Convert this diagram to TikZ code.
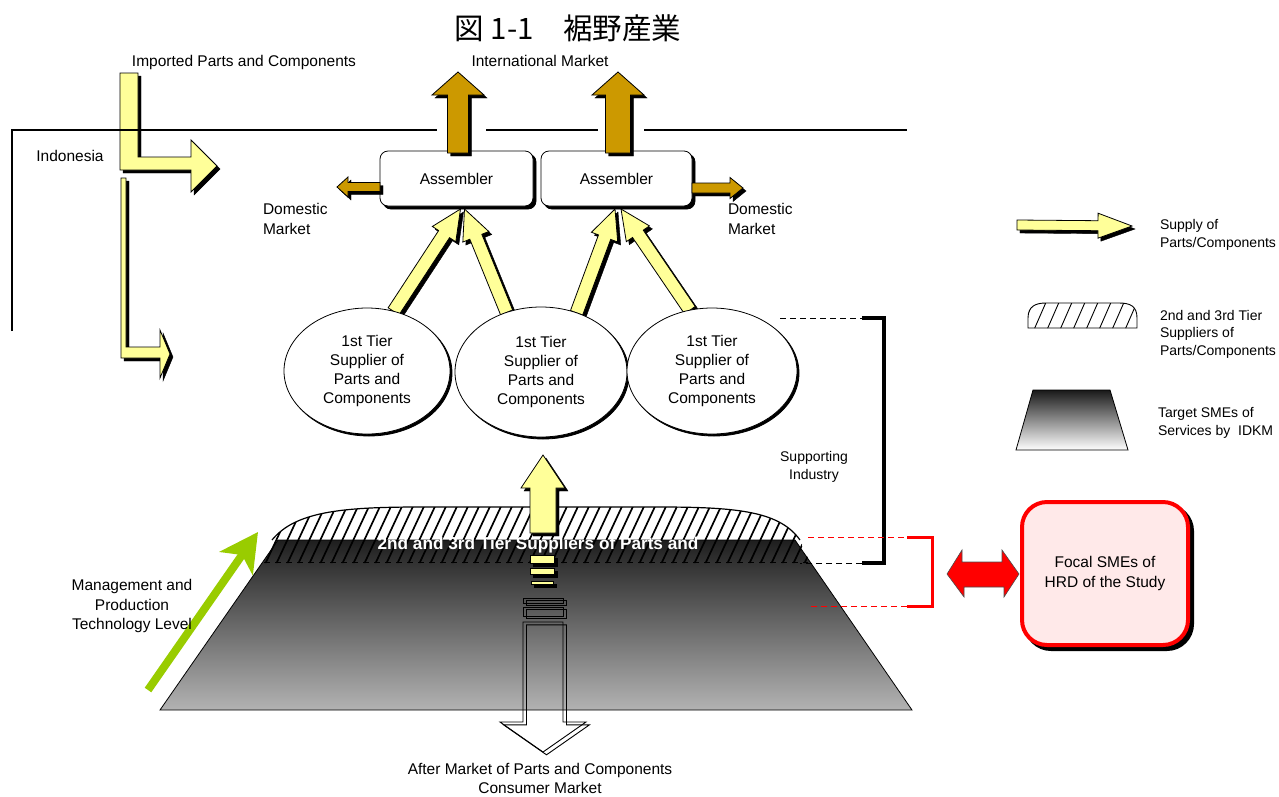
\documentclass[tikz,border=0pt]{standalone}
\usepackage{fontspec}
\setmainfont{Liberation Sans}
\newfontfamily\cjkfont{Noto Sans CJK JP}
\usetikzlibrary{calc,shapes.geometric,arrows.meta}
\definecolor{partyellow}{HTML}{FFFF99}
\definecolor{exportgold}{HTML}{CC9900}
\definecolor{leafgreen}{HTML}{99CC00}
\definecolor{focalpink}{HTML}{FFE9E9}

% block arrow from #2 to #3: half shaft width #4, half head width #5, head length #6
\newcommand\fatarrow[6][]{%
  \coordinate (fa-a) at #2;
  \coordinate (fa-b) at #3;
  \coordinate (fa-h) at ($(fa-b)!#6!(fa-a)$);
  \draw[#1] ($(fa-a)!#4!90:(fa-b)$) -- ($(fa-h)!#4!-90:(fa-a)$)
    -- ($(fa-h)!#5!-90:(fa-a)$) -- (fa-b) -- ($(fa-h)!#5!90:(fa-a)$)
    -- ($(fa-h)!#4!90:(fa-a)$) -- ($(fa-a)!#4!-90:(fa-b)$) -- cycle;}

\begin{document}
\begin{tikzpicture}[x=1pt,y=-1pt,
  every node/.style={inner sep=0pt,outer sep=0pt},
  txt/.style={font=\fontsize{15.5}{19.3}\selectfont,align=center},
  small/.style={font=\fontsize{14}{17.5}\selectfont,align=left,anchor=west},
  castshadow/.style={preaction={draw=black,fill=black,transform canvas={xshift=#1,yshift=-#1}}},
  castshadow/.default=3pt,
  supply/.style={fill=partyellow,draw=black,line width=0.8pt,line join=miter,castshadow},
  export/.style={fill=exportgold,draw=black,line width=0.8pt,line join=miter,castshadow},
  asm/.style={draw,line width=0.8pt,fill=white,rounded corners=8pt,minimum height=55pt,castshadow,txt},
  tier/.style={ellipse,draw,line width=0.8pt,fill=white,castshadow=2pt,txt},
  hatch/.style={line width=1.7pt},
  hollow/.style={draw=black,line width=0.9pt},
]
\useasboundingbox (0,0) rectangle (1279,796);

% ---------- titles ----------
\node[font=\cjkfont\fontsize{29.5}{32}\selectfont] (title) at (568,28) {図 1-1　裾野産業};
\node[txt] (intl) at (540,61) {International Market};
\node[txt] (imported) at (244,62) {Imported Parts and Components};
\node[txt] (indonesia) at (70,156) {Indonesia};

% ---------- imported parts (L-shaped supply arrows) ----------
\draw[supply] (120,73) -- (138,73) -- (138,157) -- (191,157) -- (191,140) -- (217,166)
  -- (191,192) -- (191,170) -- (120,170) -- cycle;
\draw[supply] (121,178) -- (126,178) -- (126,347) -- (160,347) -- (160,330) -- (170,354)
  -- (160,378) -- (160,358) -- (121,358) -- cycle;

% ---------- national boundary ----------
\draw[line width=1.8pt] (12,331) -- (12,130) -- (437,130);
\draw[line width=1.8pt] (486,130) -- (598,130);
\draw[line width=1.8pt] (644,130) -- (907,130);

% ---------- assemblers ----------
\node[asm,minimum width=153pt] (as1) at (456.5,178.5) {Assembler};
\node[asm,minimum width=151pt] (as2) at (616.5,178.5) {Assembler};

% exports to the international market
\coordinate (ia1) at (458,72);
\coordinate (ia2) at (618,72);
\fatarrow[export]{($(as1.north)+(1.5,2)$)}{(ia1)}{10.5pt}{26pt}{23pt}
\fatarrow[export]{($(as2.north)+(1.5,2)$)}{(ia2)}{12.5pt}{26pt}{23pt}

% domestic market
\coordinate (dm1) at (337,187);
\coordinate (dm2) at (743,188);
\fatarrow[export]{($(as1.west)+(0,8.5)$)}{(dm1)}{4.5pt}{10pt}{11pt}
\fatarrow[export]{($(as2.east)+(0,9.5)$)}{(dm2)}{5pt}{10.5pt}{13pt}
\node[txt,align=left,anchor=west] (dom1) at (263,219) {Domestic\\Market};
\node[txt,align=left,anchor=west] (dom2) at (728,219) {Domestic\\Market};

% ---------- first tier suppliers ----------
\path (367,371) node[ellipse,minimum width=166pt,minimum height=126pt] (e1) {}
      (541,372) node[ellipse,minimum width=172pt,minimum height=130pt] (e2) {}
      (712,371) node[ellipse,minimum width=170pt,minimum height=126pt] (e3) {};
\fatarrow[supply]{(e1.66)}{($(as1.south)+(4,3)$)}{6.5pt}{14pt}{30pt}
\fatarrow[supply]{(e2.120)}{($(as1.south)+(8,3)$)}{6.5pt}{14pt}{30pt}
\fatarrow[supply]{(e2.59)}{($(as2.south)+(-1.5,3)$)}{6.5pt}{14pt}{30pt}
\fatarrow[supply]{(e3.110)}{($(as2.south)+(4.5,3)$)}{6.5pt}{14pt}{30pt}
\node[tier,minimum width=166pt,minimum height=126pt] at (e1) {1st Tier\\Supplier of\\Parts and\\Components};
\node[tier,minimum width=172pt,minimum height=130pt] at (e2) {1st Tier\\Supplier of\\Parts and\\Components};
\node[tier,minimum width=170pt,minimum height=126pt] at (e3) {1st Tier\\Supplier of\\Parts and\\Components};

% ---------- target SMEs (shaded trapezoid) ----------
\draw[line width=0.8pt,top color=black!88,bottom color=black!30]
  (278,540) -- (795,540) -- (912,710) -- (160,710) -- cycle;

% 2nd and 3rd tier suppliers (hatched dome)
\begin{scope}
  \clip (262,563) -- (272,540) .. controls (295,512) and (340,507) .. (420,507)
    -- (660,507) .. controls (740,507) and (780,512) .. (800,540) -- (810,563) -- cycle;
  \foreach \x in {150,161,...,900} \draw[hatch] (\x,575) -- ++(35,-75);
\end{scope}
\draw[line width=1.2pt] (272,540) .. controls (295,512) and (340,507) .. (420,507)
    -- (660,507) .. controls (740,507) and (780,512) .. (800,540);
\draw[line width=1pt,dash pattern=on 6pt off 5pt] (264,562) -- (808,562);
\node[font=\bfseries\fontsize{17.2}{20}\selectfont,text=white] (tierlbl) at (538,545)
  {2nd and 3rd Tier Suppliers of Parts and};

% supply from the 2nd/3rd tier to the 1st tier
\coordinate (tz-top) at (543,533);
\coordinate (up-tip) at (543,455);
\fatarrow[supply]{(tz-top)}{(up-tip)}{13pt}{22pt}{33pt}
\draw[supply] (530,555) rectangle (554,563);
\draw[supply] (530,568) rectangle (554,574);
\draw[supply] (531,581) rectangle (553,584);

% after market (hollow arrow with offset outline)
\foreach \d in {0,3.5}{
  \begin{scope}[shift={(\d,\d*0.8)}]
    \draw[hollow] (523,598) rectangle (563,603);
    \draw[hollow] (523,607) rectangle (563,616);
    \draw[hollow] (523,622) -- (563,622) -- (563,722) -- (586,722) -- (543,752)
      -- (500,722) -- (523,722) -- cycle;
  \end{scope}}
\node[txt,font=\fontsize{15.5}{18.5}\selectfont] (after) at (540,778.5) {After Market of Parts and Components\\Consumer Market};

% ---------- technology level ----------
\coordinate (lv-low) at (148,690);
\coordinate (lv-high) at (258,532);
\draw[leafgreen,line width=8pt,-{Stealth[length=38pt,width=40pt,inset=10pt]}] (lv-low) -- (lv-high);
\node[txt] (mgmt) at (132,606) {Management and\\Production\\Technology Level};

% ---------- supporting industry bracket ----------
\coordinate (si-t) at (884,318);
\coordinate (si-b) at (884,563);
\draw[line width=1pt,dash pattern=on 6pt off 4pt] (e3.east |- si-t) ++(-17,0) -- (862,318);
\draw[line width=3.5pt] (862,318) -- (si-t) -- (si-b) -- (862,563);
\draw[line width=1pt,dash pattern=on 6pt off 4pt] (862,563) -- (800,563);
\node[font=\fontsize{14}{18}\selectfont,align=center] (support) at (814,467) {Supporting\\Industry};

% ---------- focal SMEs ----------
\draw[red,line width=1pt,dash pattern=on 6pt off 4pt] (808,537) -- (907,537);
\draw[red,line width=3pt] (907,537) -- (932,537) -- (932,606) -- (907,606);
\draw[red,line width=1pt,dash pattern=on 6pt off 4pt] (907,606) -- (808,606);
\node[draw=red,line width=4pt,fill=focalpink,rounded corners=25pt,minimum width=166pt,
  minimum height=143pt,castshadow=4pt,txt] (focal) at (1105,573.5) {Focal SMEs of\\HRD of the Study};
\coordinate (dbl-l) at (947,574);
\coordinate (dbl-r) at ($(focal.west)+(-3,0.5)$);
\draw[fill=red,draw=black!70,line width=0.6pt] (dbl-l) -- ++(15,-24) -- ++(0,12) -- ++(40,0)
  -- ++(0,-12) -- (dbl-r) -- ++(-15,23) -- ++(0,-10) -- ++(-40,0) -- ++(0,10) -- cycle;

% ---------- legend ----------
\coordinate (lg-a) at (1017,225);
\coordinate (lg-b) at (1132,226);
\fatarrow[supply]{(lg-a)}{(lg-b)}{5pt}{12.5pt}{34pt}
\node[small] (lg1) at (1160,235) {Supply of\\Parts/Components};

\begin{scope}
  \clip (1028,328) -- (1028,318) .. controls (1028,306) and (1036,303) .. (1046,303)
    -- (1119,303) .. controls (1130,303) and (1137,306) .. (1137,318) -- (1137,328) -- cycle;
  \foreach \x in {1020,1033,...,1150} \draw[line width=0.9pt] (\x,332) -- ++(14,-32);
\end{scope}
\draw[line width=0.9pt] (1028,328) -- (1028,318) .. controls (1028,306) and (1036,303) .. (1046,303)
    -- (1119,303) .. controls (1130,303) and (1137,306) .. (1137,318) -- (1137,328) -- cycle;
\node[small] (lg2) at (1160,334) {2nd and 3rd Tier\\Suppliers of\\Parts/Components};

\draw[line width=0.8pt,top color=black!90,bottom color=white]
  (1033,390) -- (1110,390) -- (1128,450) -- (1016,450) -- cycle;
\node[small] (lg3) at (1158,423) {Target SMEs of\\Services by\ \ IDKM};
\end{tikzpicture}
\end{document}
